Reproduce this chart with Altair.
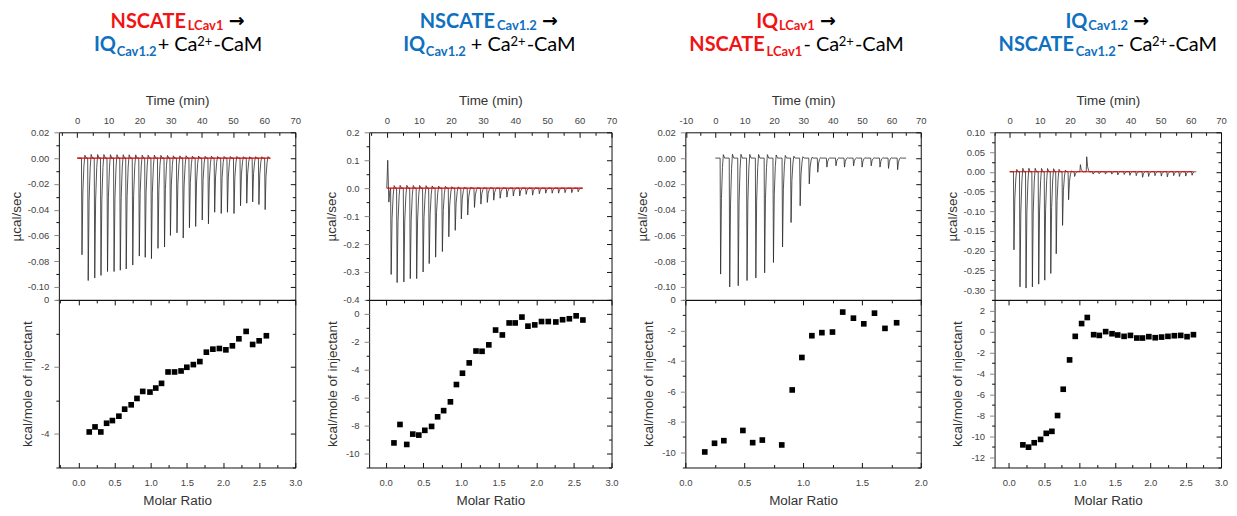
import altair as alt
import pandas as pd
import numpy as np

# ---------------- data ----------------
# Panel 1: NSCATE_LCav1 -> IQ_Cav1.2 + Ca2+-CaM
p1_inj_time = [1.4, 3.4, 5.5, 7.5, 9.6, 11.7, 13.7, 15.6, 17.7, 19.8, 21.7, 23.7, 25.8, 27.9, 29.8,
               31.9, 33.9, 35.9, 37.9, 40.0, 42.0, 44.0, 46.1, 48.1, 50.2, 52.3, 54.3, 56.2, 58.2, 60.2]
p1_inj_peak = [-0.075, -0.095, -0.093, -0.091, -0.088, -0.088, -0.087, -0.086, -0.083, -0.076,
               -0.077, -0.078, -0.070, -0.069, -0.060, -0.058, -0.062, -0.054, -0.053, -0.048,
               -0.051, -0.042, -0.043, -0.042, -0.043, -0.037, -0.035, -0.034, -0.036, -0.040]
p1_ratio = [0.15, 0.23, 0.31, 0.39, 0.47, 0.56, 0.64, 0.73, 0.81, 0.89, 0.99, 1.07, 1.15, 1.24, 1.33,
            1.42, 1.50, 1.59, 1.68, 1.77, 1.86, 1.95, 2.04, 2.13, 2.22, 2.32, 2.41, 2.50, 2.60]
p1_heat = [-3.94, -3.79, -3.94, -3.68, -3.60, -3.47, -3.26, -3.13, -2.94, -2.73, -2.75, -2.63, -2.49,
           -2.15, -2.15, -2.12, -2.01, -1.93, -1.84, -1.56, -1.47, -1.45, -1.49, -1.37, -1.16, -0.94,
           -1.33, -1.22, -1.07]

# Panel 2: NSCATE_Cav1.2 -> IQ_Cav1.2 + Ca2+-CaM
p2_pre_time = [0.0, 0.3, 0.65, 0.95]
p2_pre_val = [0.0, 0.10, -0.05, -0.01]
p2_inj_time = [1.25, 3.1, 5.2, 7.2, 9.2, 11.2, 13.1, 15.1, 17.2, 19.2, 21.2, 23.1, 25.1, 27.2, 29.2,
               31.2, 33.2, 35.2, 37.3, 39.3, 41.3, 43.3, 45.3, 47.4, 49.4, 51.4, 53.4, 55.4, 57.5, 59.5]
p2_inj_peak = [-0.309, -0.338, -0.336, -0.324, -0.324, -0.300, -0.270, -0.247, -0.227, -0.174,
               -0.151, -0.110, -0.096, -0.069, -0.057, -0.051, -0.043, -0.036, -0.032, -0.028,
               -0.028, -0.022, -0.025, -0.020, -0.018, -0.018, -0.018, -0.016, -0.016, -0.013]
p2_ratio = [0.11, 0.19, 0.28, 0.36, 0.44, 0.52, 0.61, 0.69, 0.77, 0.86, 0.94, 1.02, 1.11, 1.20, 1.28,
            1.37, 1.46, 1.55, 1.64, 1.72, 1.81, 1.89, 1.98, 2.07, 2.16, 2.26, 2.35, 2.44, 2.53, 2.62]
p2_heat = [-9.24, -7.92, -9.35, -8.61, -8.68, -8.34, -8.06, -7.37, -6.93, -6.30, -5.06, -4.25, -3.51,
           -2.66, -2.68, -2.22, -1.16, -1.51, -0.65, -0.65, -0.23, -0.88, -0.79, -0.55, -0.55, -0.58,
           -0.42, -0.35, -0.14, -0.44]

# Panel 3: IQ_LCav1 -> NSCATE_LCav1 - Ca2+-CaM
p3_inj_time = [1.7, 4.8, 7.7, 10.7, 13.7, 16.7, 19.7, 22.8, 25.7, 28.8, 31.9, 34.8, 37.9, 41.0,
               43.9, 47.0, 49.9, 53.0, 56.0, 58.9, 62.0]
p3_inj_peak = [-0.090, -0.100, -0.099, -0.095, -0.093, -0.089, -0.081, -0.069, -0.050, -0.037,
               -0.020, -0.011, -0.007, -0.006, -0.007, -0.006, -0.007, -0.006, -0.007, -0.008, -0.009]
p3_ratio = [0.165, 0.248, 0.327, 0.489, 0.572, 0.654, 0.819, 0.908, 0.99, 1.075, 1.16, 1.25, 1.337,
            1.428, 1.516, 1.607, 1.696, 1.795]
p3_heat = [-9.98, -9.41, -9.24, -8.57, -9.37, -9.20, -9.52, -5.91, -3.78, -2.35, -2.15, -2.11, -0.80,
           -1.20, -1.57, -0.87, -1.87, -1.50]

# Panel 4: IQ_Cav1.2 -> NSCATE_Cav1.2 - Ca2+-CaM
p4_inj_time = [1.3, 3.3, 5.3, 7.4, 9.5, 11.5, 13.5, 15.3, 17.4, 19.4, 21.4, 23.3, 25.4, 27.5, 29.5,
               31.6, 33.7, 35.7, 37.8, 39.7, 41.8, 43.9, 45.9, 48.0, 50.1, 52.1, 54.2, 56.1, 58.2, 60.3]
p4_inj_peak = [-0.198, -0.292, -0.295, -0.292, -0.285, -0.275, -0.258, -0.208, -0.136, -0.071,
               -0.012, 0.018, 0.038, -0.006, -0.005, -0.006, -0.006, -0.008, -0.007, -0.009,
               -0.010, -0.014, -0.012, -0.010, -0.011, -0.013, -0.010, -0.012, -0.011, -0.009]
p4_ratio = [0.20, 0.28, 0.36, 0.45, 0.53, 0.61, 0.69, 0.77, 0.86, 0.94, 1.03, 1.11, 1.20, 1.28, 1.37,
            1.46, 1.54, 1.63, 1.72, 1.81, 1.89, 1.98, 2.07, 2.16, 2.25, 2.34, 2.43, 2.52, 2.61]
p4_heat = [-10.84, -11.06, -10.64, -10.32, -9.74, -9.55, -8.04, -5.53, -2.73, -0.48, 0.74, 1.32,
           -0.32, -0.39, -0.03, -0.23, -0.35, -0.48, -0.39, -0.64, -0.64, -0.51, -0.61, -0.55, -0.48,
           -0.42, -0.39, -0.51, -0.32]

# end of the recorded trace and extent of the red baseline (min)
trace_end = [62.0, 61.0, 65.0, 61.5]
baseline_span = [[0.0, 62.0], [0.0, 61.0], None, [0.0, 61.0]]

# panel titles: (text, style); R/B = red/blue bold, s = subscript, K = black, p = superscript
title_lines = [
    [[("NSCATE", "R"), ("LCav1", "Rs"), ("→", "A")],
     [("IQ", "B"), ("Cav1.2", "Bs"), ("+ Ca", "K"), ("2+", "Kp"), ("-CaM", "K")]],
    [[("NSCATE", "B"), ("Cav1.2", "Bs"), ("→", "A")],
     [("IQ", "B"), ("Cav1.2", "Bs"), ("+ Ca", "Kg"), ("2+", "Kp"), ("-CaM", "K")]],
    [[("IQ", "R"), ("LCav1", "Rs"), ("→", "A")],
     [("NSCATE", "R"), ("LCav1", "Rs"), ("- Ca", "K"), ("2+", "Kp"), ("-CaM", "K")]],
    [[("IQ", "B"), ("Cav1.2", "Bs"), ("→", "A")],
     [("NSCATE", "B"), ("Cav1.2", "Bs"), ("- Ca", "K"), ("2+", "Kp"), ("-CaM", "K")]],
]

# ---------------- style / layout ----------------
RED = "#f01414"
BLUE = "#1070c0"
INK = "#111111"
FONT_AX = "Liberation Sans"
FONT_T = "Lato"

# relative shape of one injection peak (time offset in min, fraction of the peak)
SPIKE_DT = [-0.05, 0.12, 0.40, 0.75, 1.05, 1.50]
SPIKE_FR = [0.0, 1.0, 0.35, 0.08, -0.03, 0.0]

WIDTHS = [237, 243, 236, 227]
TOP_H = 168
BOT_H = 168
SPACING = 74
LEFT0 = 57
LEFTS = []
_x = LEFT0
for w in WIDTHS:
    LEFTS.append(_x)
    _x += w + SPACING
TITLE_CENTER = [176, 488, 796, 1108]   # page x of the title centres

panels = [
    dict(tdom=[-5.9, 70], ydom=[-0.11, 0.02], ystep=0.02, yfmt='.2f',
         rdom=[-0.27, 3.0], rstep=0.5, hdom=[-5, 0], hstep=2,
         times=p1_inj_time, peaks=p1_inj_peak, pre=([0.0], [0.0]),
         ratio=p1_ratio, heat=p1_heat),
    dict(tdom=[-5.5, 70], ydom=[-0.4, 0.2], ystep=0.1, yfmt='.1f',
         rdom=[-0.22, 3.0], rstep=0.5, hdom=[-11, 1], hstep=2,
         times=p2_inj_time, peaks=p2_inj_peak, pre=(p2_pre_time, p2_pre_val),
         ratio=p2_ratio, heat=p2_heat),
    dict(tdom=[-10.2, 70], ydom=[-0.11, 0.02], ystep=0.02, yfmt='.2f',
         rdom=[0.0, 2.0], rstep=0.5, hdom=[-11, 0], hstep=2,
         times=p3_inj_time, peaks=p3_inj_peak, pre=([0.0], [0.0]),
         ratio=p3_ratio, heat=p3_heat),
    dict(tdom=[-5.0, 70], ydom=[-0.325, 0.10], ystep=0.05, yfmt='.2f',
         rdom=[-0.2, 3.0], rstep=0.5, hdom=[-13, 3], hstep=2,
         times=p4_inj_time, peaks=p4_inj_peak, pre=([0.0], [0.0]),
         ratio=p4_ratio, heat=p4_heat),
]

MAIN_FS, SUB_FS = 20, 13
STY = {
    "R": dict(color=RED, fontWeight="bold", fontSize=MAIN_FS, font=FONT_T),
    "Rs": dict(color=RED, fontWeight="bold", fontSize=SUB_FS, font=FONT_T),
    "B": dict(color=BLUE, fontWeight="bold", fontSize=MAIN_FS, font=FONT_T),
    "Bs": dict(color=BLUE, fontWeight="bold", fontSize=SUB_FS, font=FONT_T),
    "K": dict(color="#000000", fontWeight="normal", fontSize=MAIN_FS, font=FONT_T),
    "Kg": dict(color="#000000", fontWeight="normal", fontSize=MAIN_FS, font=FONT_T),
    "Kp": dict(color="#000000", fontWeight="normal", fontSize=SUB_FS, font=FONT_T),
    "A": dict(color="#000000", fontWeight="bold", fontSize=19, font="DejaVu Sans"),
}
# approximate advance widths (em) of the title font, used to chain the pieces
EM_BOLD = {"N": .76, "S": .54, "C": .66, "A": .70, "T": .59, "E": .57, "I": .29, "Q": .80,
           "L": .50, "a": .52, "v": .52, "1": .58, "2": .58, ".": .23}
EM_REG = {"+": .58, " ": .20, "C": .66, "a": .50, "2": .58, "-": .36, "M": .88}
# baselines relative to the top of the thermogram plot
Y_LINE = {0: {"main": -105, "sub": -103, "A": -106},
          1: {"main": -82, "sub": -76.5, "sup": -87}}


def seg_width(txt, st):
    if st == "A":
        return 0.84 * 19
    table = EM_BOLD if st[0] in "RB" else EM_REG
    fs = SUB_FS if st.endswith("s") or st.endswith("p") else MAIN_FS
    return sum(table.get(c, 0.55) for c in txt) * fs


def vals(lo, hi, step, off=0.0):
    out = []
    k = int(np.floor((lo - off) / step)) - 1
    while True:
        v = k * step + off
        if v > hi + 1e-9:
            break
        if v >= lo - 1e-9:
            out.append(round(v, 6))
        k += 1
    return out


def fexpr(f):
    return "replace(format(datum.value, '" + f + "'), '\u2212', '-')"


def tick_axis(orient, values, size, offset=None):
    kw = dict(orient=orient, values=values, labels=False, title=None, domain=False,
              grid=False, ticks=True, tickSize=size, tickColor=INK, tickWidth=1)
    if offset is not None:
        kw["offset"] = offset
    return alt.Axis(**kw)


def tick_layers(df, xf, yf, xs, ys, xmaj, xmin, ymaj, ymin, W, H, bottom_plot):
    inner_lab = "top" if bottom_plot else "bottom"  # orient that points inward at labelled edge
    specs = [
        (tick_axis(inner_lab, xmaj, 5, -H), tick_axis("left", ymin, 3)),
        (tick_axis(inner_lab, xmin, 3, -H), tick_axis("left", ymaj, 5, -W)),
        (tick_axis("bottom", xmaj, 5, -H) if bottom_plot else None, tick_axis("left", ymin, 3, -W)),
    ]
    if bottom_plot:
        specs.append((tick_axis("bottom", xmin, 3, -H), None))
    out = []
    for xa, ya in specs:
        out.append(alt.Chart(df).mark_point(opacity=0).encode(
            x=alt.X(xf, scale=xs, axis=xa),
            y=alt.Y(yf, scale=ys, axis=ya),
        ))
    return out


def title_layers(lines, center, left):
    one = pd.DataFrame({"k": [0]})
    out = []
    for li, line in enumerate(lines):
        gaps = []
        for j, (txt, st) in enumerate(line):
            if j == 0:
                gaps.append(0)
            elif st == "A":
                gaps.append(5)
            elif st == "Kg":
                gaps.append(5)
            else:
                gaps.append(1)
        total = sum(seg_width(t, s) for t, s in line) + sum(gaps)
        x = center - total / 2
        for (txt, st), g in zip(line, gaps):
            x += g
            if st == "A":
                yy = Y_LINE[0]["A"]
            elif st.endswith("s"):
                yy = Y_LINE[li]["sub"]
            elif st.endswith("p"):
                yy = Y_LINE[li]["sup"]
            else:
                yy = Y_LINE[li]["main"]
            out.append(alt.Chart(one).mark_text(
                text=txt, align="left", baseline="alphabetic", **STY[st]
            ).encode(x=alt.value(round(x - left, 1)), y=alt.value(yy)))
            x += seg_width(txt, st)
    return out


tops, bots = [], []
for i, p in enumerate(panels):
    W = WIDTHS[i]
    # ----- thermogram -----
    rows_t = list(p["pre"][0])
    rows_v = list(p["pre"][1])
    for t, pk in zip(p["times"], p["peaks"]):
        for dt, fr in zip(SPIKE_DT, SPIKE_FR):
            rows_t.append(t + dt)
            rows_v.append(pk * fr)
    rows_t.append(trace_end[i])
    rows_v.append(0.0)
    trace = pd.DataFrame({"t": rows_t, "v": rows_v})

    xs = alt.Scale(domain=p["tdom"], nice=False, zero=False)
    ys = alt.Scale(domain=p["ydom"], nice=False, zero=False)
    tmaj = vals(p["tdom"][0], p["tdom"][1], 10)
    tmin = vals(p["tdom"][0], p["tdom"][1], 10, 5)
    ymaj = vals(p["ydom"][0], p["ydom"][1], p["ystep"])
    ymin = vals(p["ydom"][0], p["ydom"][1], p["ystep"], p["ystep"] / 2)

    line = alt.Chart(trace).mark_line(color="#2a2a2a", strokeWidth=0.8).encode(
        x=alt.X("t:Q", scale=xs, axis=alt.Axis(
            orient="top", values=tmaj, title="Time (min)", ticks=False, domain=False,
            labelExpr=fexpr(".0f"), labelPadding=7, titlePadding=8)),
        y=alt.Y("v:Q", scale=ys, axis=alt.Axis(
            orient="left", values=ymaj, title="µcal/sec", ticks=True, tickSize=5, domain=False,
            labelExpr=fexpr(p["yfmt"]), labelPadding=5, titlePadding=4)),
    )
    top_layers = tick_layers(trace, "t:Q", "v:Q", xs, ys, tmaj, tmin, ymaj, ymin, W, TOP_H, False)
    top_layers.append(line)
    if baseline_span[i] is not None:
        bdf = pd.DataFrame({"t0": [baseline_span[i][0]], "t1": [baseline_span[i][1]], "v": [0.0]})
        top_layers.append(alt.Chart(bdf).mark_rule(color="#e00000", strokeWidth=1.2).encode(
            x=alt.X("t0:Q", scale=xs, axis=None), x2="t1:Q",
            y=alt.Y("v:Q", scale=ys, axis=None)))
    top_layers += title_layers(title_lines[i], TITLE_CENTER[i], LEFTS[i])
    tops.append(alt.layer(*top_layers).resolve_axis(x="independent", y="independent").properties(
        width=W, height=TOP_H))

    # ----- integrated heats -----
    heats = pd.DataFrame({"r": p["ratio"], "q": p["heat"]})
    xs2 = alt.Scale(domain=p["rdom"], nice=False, zero=False)
    ys2 = alt.Scale(domain=p["hdom"], nice=False, zero=False)
    rmaj = vals(p["rdom"][0], p["rdom"][1], p["rstep"])
    rmin = vals(p["rdom"][0], p["rdom"][1], p["rstep"], p["rstep"] / 2)
    hmaj = vals(p["hdom"][0], p["hdom"][1], p["hstep"])
    hmin = vals(p["hdom"][0], p["hdom"][1], p["hstep"], p["hstep"] / 2)
    pts = alt.Chart(heats).mark_square(size=32, color="#000000", opacity=1).encode(
        x=alt.X("r:Q", scale=xs2, axis=alt.Axis(
            orient="bottom", values=rmaj, title="Molar Ratio", ticks=False, domain=False,
            labelExpr=fexpr(".1f"), labelPadding=10, titlePadding=7)),
        y=alt.Y("q:Q", scale=ys2, axis=alt.Axis(
            orient="left", values=hmaj, title="kcal/mole of injectant", ticks=True, tickSize=5,
            domain=False, labelExpr=fexpr(".0f"), labelPadding=5, titlePadding=6)),
    )
    bot_layers = tick_layers(heats, "r:Q", "q:Q", xs2, ys2, rmaj, rmin, hmaj, hmin, W, BOT_H, True)
    bot_layers.append(pts)
    bots.append(alt.layer(*bot_layers).resolve_axis(x="independent", y="independent").properties(
        width=W, height=BOT_H))

chart = alt.concat(*(tops + bots), columns=4, bounds="flush", align="each",
                   spacing={"row": 0, "column": SPACING}).properties(
    padding={"left": 0, "top": 2, "right": 0, "bottom": 0}
).configure_view(
    stroke=INK, strokeWidth=1
).configure_axis(
    labelFont=FONT_AX, labelFontSize=9.5, labelColor="#444444", labelFlush=False,
    titleFont=FONT_AX, titleFontSize=13.5, titleFontWeight="normal", titleColor="#333333",
    grid=False
)

chart.save("out.html", embed_options={"renderer": "svg", "actions": False})
